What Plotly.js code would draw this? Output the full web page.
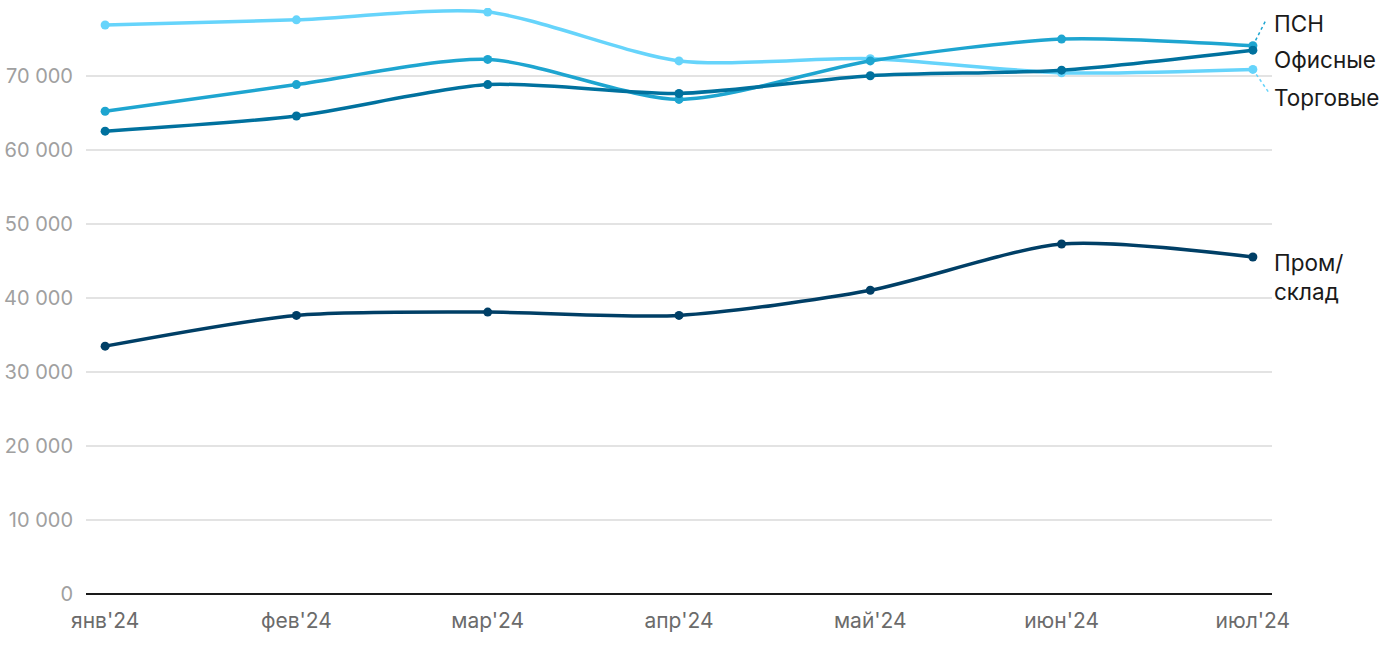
<!DOCTYPE html>
<html><head><meta charset="utf-8">
<script src="https://cdn.plot.ly/plotly-3.0.1.min.js"></script>
<style>body{margin:0;background:#fff}#c{width:1400px;height:650px}</style>
</head><body><div id="c"></div>
<script>
var months = ["янв'24","фев'24","мар'24","апр'24","май'24","июн'24","июл'24"];
var torg = [76900, 77600, 78650, 72050, 72350, 70450, 70900];
var psn = [65250, 68850, 72250, 66850, 72050, 75000, 74100];
var ofis = [62550, 64600, 68850, 67650, 70050, 70800, 73500];
var prom = [33500, 37650, 38100, 37650, 41050, 47300, 45550];
var names = ["Торговые","ПСН","Офисные","Пром/<br>склад"];
var colors = ["#66d4fb","#1ea5d0","#00719e","#003f66"];
var yTicks = [0,10000,20000,30000,40000,50000,60000,70000];

var FONT = 'Inter, Roboto, Arial, sans-serif';
var series = [torg, psn, ofis, prom];
var xi = months.map(function(_,i){return i;});
var traces = series.map(function(s,k){
  return {x: xi, y: s, type:'scatter', mode:'lines+markers', name: names[k],
    line:{color:colors[k], width:3.5, shape:'spline', smoothing:0.75},
    marker:{color:colors[k], size:9}, hoverinfo:'skip'};
});

var last = xi.length-1;
var annotations = [
  {text:"ПСН", xref:'paper', yref:'y', x:1.0, y:psn[last]+3050, xanchor:'left', yanchor:'middle'},
  {text:"Офисные", xref:'paper', yref:'y', x:1.0, y:ofis[last]-1300, xanchor:'left', yanchor:'middle'},
  {text:"Торговые", xref:'paper', yref:'y', x:1.0, y:torg[last]-3800, xanchor:'left', yanchor:'middle'},
  {text:"Пром/<br>склад", xref:'paper', yref:'y', x:1.0, y:prom[last]-2750, xanchor:'left', yanchor:'middle', align:'left'}
].map(function(a){a.showarrow=false; a.font={family:FONT, size:22.5, color:'#1a1a1a'}; return a;});

var shapes = [
  {type:'line', xref:'x', yref:'y', x0:last, y0:psn[last], x1:last+0.065, y1:psn[last]+3300, line:{color:colors[1], width:1.5, dash:'dot'}},
  {type:'line', xref:'x', yref:'y', x0:last, y0:torg[last], x1:last+0.08, y1:torg[last]-3000, line:{color:colors[0], width:1.5, dash:'dot'}}
];

var layout = {
  width:1400, height:650,
  margin:{l:86, r:128, t:8, b:56},
  paper_bgcolor:'#fff', plot_bgcolor:'#fff',
  showlegend:false,
  separators:', ',
  font:{family:FONT},
  xaxis:{range:[-0.1, 6.1], tickvals:xi, ticktext:months, showgrid:false, zeroline:false,
    showline:false, ticks:'', ticklabelstandoff:12, tickfont:{family:FONT, size:21, color:'#6b6b6b'}, fixedrange:true},
  yaxis:{range:[0, 79200], tickvals:yTicks, tickformat:',.0f', showgrid:true, gridcolor:'#e3e3e3', gridwidth:1.5,
    zeroline:true, zerolinecolor:'#1a1a1a', zerolinewidth:2, showline:false, ticks:'',
    ticklabelstandoff:12, tickfont:{family:FONT, size:20, color:'#a0a0a0'}, fixedrange:true},
  annotations: annotations,
  shapes: shapes
};
Plotly.newPlot('c', traces, layout, {displayModeBar:false, staticPlot:true});
</script></body></html>
